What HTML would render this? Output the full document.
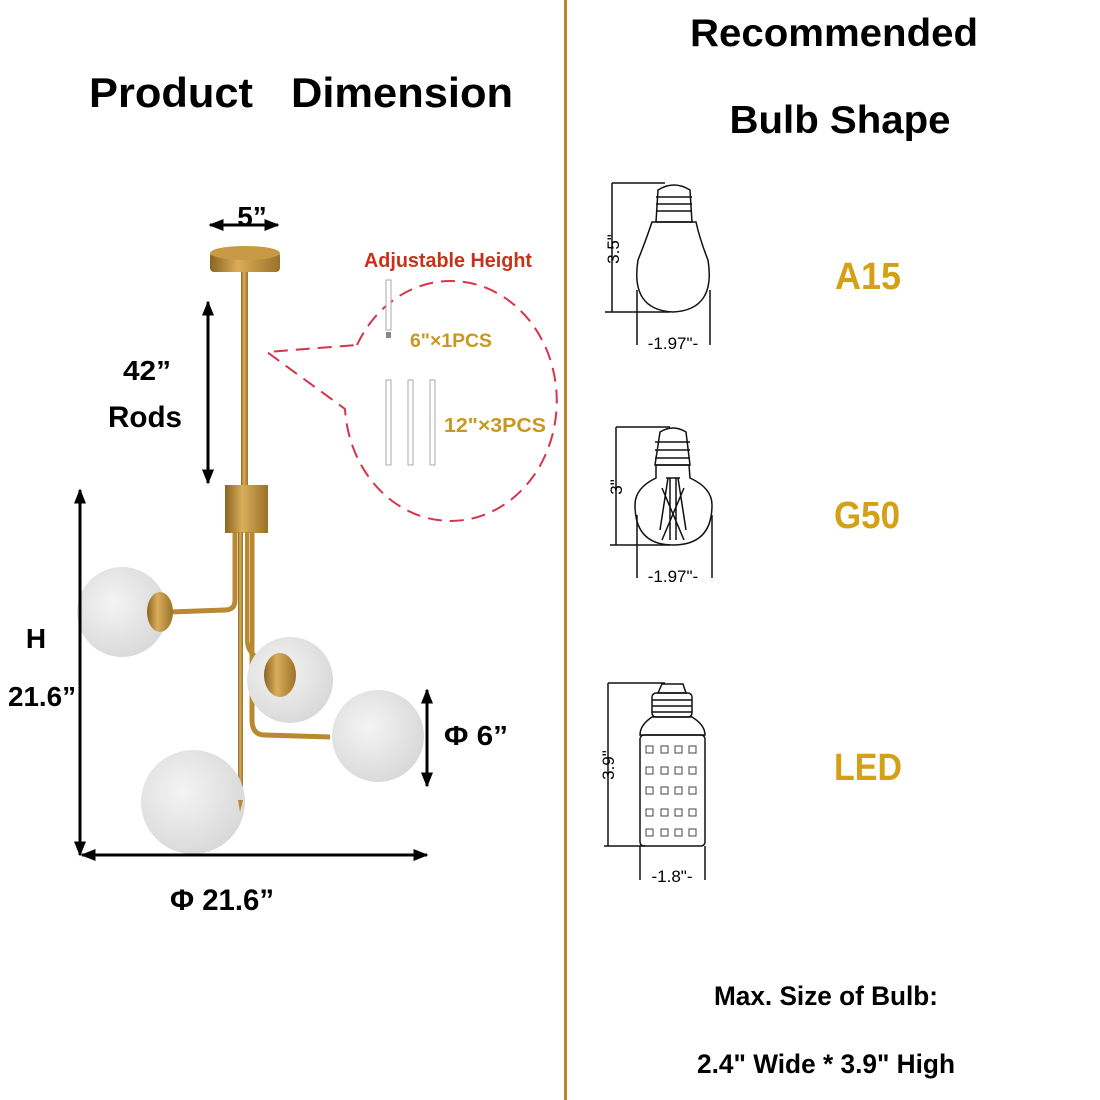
<!DOCTYPE html>
<html><head><meta charset="utf-8"><style>
html,body{margin:0;padding:0;background:#fff;}
svg{display:block;}
text{font-family:"Liberation Sans",Arial,sans-serif;font-weight:bold;}
</style></head><body>
<svg width="1100" height="1100" viewBox="0 0 1100 1100" xmlns="http://www.w3.org/2000/svg">
<defs>
<radialGradient id="ball" cx="0.4" cy="0.4" r="0.7"><stop offset="0" stop-color="#f4f4f4"/><stop offset="1" stop-color="#d6d6d6"/></radialGradient>
<linearGradient id="gold" x1="0" x2="1"><stop offset="0" stop-color="#8a6420"/><stop offset="0.4" stop-color="#d9ad5a"/><stop offset="1" stop-color="#9a7228"/></linearGradient>
<marker id="ah" viewBox="0 0 10 10" refX="9" refY="5" markerWidth="5" markerHeight="5" orient="auto-start-reverse"><path d="M0,1 L10,5 L0,9 z" fill="#000"/></marker>
</defs>
<rect width="1100" height="1100" fill="#fff"/>
<rect x="564" y="0" width="3" height="1100" fill="#b8862c"/>

<text x="171" y="107" font-size="42" text-anchor="middle" textLength="164" lengthAdjust="spacingAndGlyphs">Product</text>
<text x="402" y="107" font-size="42" text-anchor="middle" textLength="222" lengthAdjust="spacingAndGlyphs">Dimension</text>
<text x="834" y="46" font-size="39" text-anchor="middle" textLength="288" lengthAdjust="spacingAndGlyphs">Recommended</text>
<text x="840" y="133" font-size="39" text-anchor="middle" textLength="221" lengthAdjust="spacingAndGlyphs">Bulb Shape</text>

<g>
<rect x="241" y="270" width="7" height="218" fill="url(#gold)"/>
<rect x="210" y="252" width="70" height="20" rx="4" fill="url(#gold)"/>
<ellipse cx="245" cy="253" rx="35" ry="7" fill="#c99a45"/>
<rect x="225" y="485" width="43" height="48" fill="url(#gold)"/>
<rect x="238" y="532" width="5" height="280" fill="url(#gold)"/>
<path d="M235,532 L235,600 Q235,610 225,610 L170,612" stroke="#b8892f" stroke-width="5" fill="none"/>
<path d="M252,532 L252,720 Q252,735 265,735 L330,737" stroke="#b8892f" stroke-width="5" fill="none"/>
<path d="M247,532 L247,640 Q247,655 262,658 L278,660" stroke="#b8892f" stroke-width="4" fill="none"/>
<circle cx="122" cy="612" r="45" fill="url(#ball)"/>
<ellipse cx="160" cy="612" rx="13" ry="20" fill="url(#gold)"/>
<circle cx="290" cy="680" r="43" fill="url(#ball)"/>
<ellipse cx="280" cy="675" rx="16" ry="22" fill="url(#gold)"/>
<circle cx="378" cy="736" r="46" fill="url(#ball)"/>
<circle cx="193" cy="802" r="52" fill="url(#ball)"/>
<path d="M238,800 L240,812 L243,800z" fill="#b8892f"/>
</g>

<line x1="210" y1="225" x2="278" y2="225" stroke="#000" stroke-width="3" marker-start="url(#ah)" marker-end="url(#ah)"/>
<text x="252" y="226" font-size="28" text-anchor="middle">5”</text>
<line x1="208" y1="302" x2="208" y2="483" stroke="#000" stroke-width="3" marker-start="url(#ah)" marker-end="url(#ah)"/>
<text x="147" y="380" font-size="28" text-anchor="middle" textLength="48" lengthAdjust="spacingAndGlyphs">42”</text>
<text x="145" y="427" font-size="30" text-anchor="middle" textLength="74" lengthAdjust="spacingAndGlyphs">Rods</text>
<line x1="80" y1="490" x2="80" y2="855" stroke="#000" stroke-width="3" marker-start="url(#ah)" marker-end="url(#ah)"/>
<line x1="82" y1="855" x2="427" y2="855" stroke="#000" stroke-width="3" marker-start="url(#ah)" marker-end="url(#ah)"/>
<text x="36" y="648" font-size="28" text-anchor="middle">H</text>
<text x="42" y="706" font-size="28" text-anchor="middle" textLength="68" lengthAdjust="spacingAndGlyphs">21.6”</text>
<text x="222" y="910" font-size="30" text-anchor="middle" textLength="104" lengthAdjust="spacingAndGlyphs">Φ 21.6”</text>
<line x1="427" y1="690" x2="427" y2="786" stroke="#000" stroke-width="3" marker-start="url(#ah)" marker-end="url(#ah)"/>
<text x="476" y="745" font-size="28" text-anchor="middle" textLength="64" lengthAdjust="spacingAndGlyphs">Φ 6”</text>

<text x="448" y="267" font-size="20" fill="#c8321a" text-anchor="middle" textLength="168" lengthAdjust="spacingAndGlyphs">Adjustable Height</text>
<path d="M357,345 A106,120 0 1 1 345,409 L267,352 Z" fill="none" stroke="#d8334a" stroke-width="2" stroke-dasharray="14,8"/>
<rect x="386" y="280" width="5" height="50" fill="#fff" stroke="#aaa" stroke-width="1"/>
<rect x="386" y="332" width="5" height="6" fill="#888"/>
<rect x="386" y="380" width="5" height="85" fill="#fff" stroke="#aaa" stroke-width="1"/>
<rect x="408" y="380" width="5" height="85" fill="#fff" stroke="#aaa" stroke-width="1"/>
<rect x="430" y="380" width="5" height="85" fill="#fff" stroke="#aaa" stroke-width="1"/>
<text x="451" y="347" font-size="19" fill="#c9981e" text-anchor="middle" textLength="82" lengthAdjust="spacingAndGlyphs">6"×1PCS</text>
<text x="495" y="432" font-size="20" fill="#c9981e" text-anchor="middle" textLength="102" lengthAdjust="spacingAndGlyphs">12"×3PCS</text>

<g stroke="#111" fill="none" stroke-width="1.5">
<line x1="612" y1="183" x2="665" y2="183"/><line x1="612" y1="183" x2="612" y2="312"/><line x1="605" y1="312" x2="670" y2="312"/>
<path d="M658,190 Q674,180 690,190 L692,222 L656,222 Z"/>
<line x1="656" y1="197" x2="692" y2="197"/><line x1="656" y1="204" x2="692" y2="204"/><line x1="656" y1="211" x2="692" y2="211"/>
<path d="M652,222 L696,222 Q700,240 708,260 Q716,310 673,312 Q630,310 638,260 Q646,240 652,222 Z"/>
<line x1="637" y1="290" x2="637" y2="345"/><line x1="710" y1="290" x2="710" y2="345"/>
<line x1="616" y1="427" x2="670" y2="427"/><line x1="616" y1="427" x2="616" y2="545"/><line x1="610" y1="545" x2="670" y2="545"/>
<path d="M660,432 Q673,424 686,432 L690,465 L655,465 Z"/>
<line x1="655" y1="442" x2="690" y2="442"/><line x1="655" y1="450" x2="690" y2="450"/><line x1="655" y1="458" x2="690" y2="458"/>
<path d="M656,465 L689,465 L690,478 Q712,488 712,505 Q712,545 673,545 Q635,545 635,505 Q635,488 656,478 Z"/>
<path d="M666,478 L680,478 M668,478 L660,530 M678,478 L686,530 M662,488 L684,540 M684,488 L662,540 M670,478 L670,540 M676,478 L676,540"/>
<line x1="637" y1="515" x2="637" y2="578"/><line x1="712" y1="515" x2="712" y2="578"/>
<line x1="608" y1="683" x2="665" y2="683"/><line x1="608" y1="683" x2="608" y2="846"/><line x1="604" y1="846" x2="645" y2="846"/>
<path d="M662,684 L683,684 L686,693 L658,693 Z"/>
<rect x="652" y="693" width="40" height="24" rx="4"/>
<line x1="652" y1="700" x2="692" y2="700"/><line x1="652" y1="706" x2="692" y2="706"/><line x1="652" y1="712" x2="692" y2="712"/>
<path d="M652,717 L692,717 Q705,725 705,735 L640,735 Q640,725 652,717 Z"/>
<rect x="640" y="735" width="65" height="111" rx="4"/>
<line x1="640" y1="846" x2="640" y2="880"/><line x1="705" y1="846" x2="705" y2="880"/>
</g>
<g stroke="#444" fill="none" stroke-width="1">
<rect x="646" y="746" width="7" height="7"/><rect x="661" y="746" width="7" height="7"/><rect x="675" y="746" width="7" height="7"/><rect x="689" y="746" width="7" height="7"/>
<rect x="646" y="767" width="7" height="7"/><rect x="661" y="767" width="7" height="7"/><rect x="675" y="767" width="7" height="7"/><rect x="689" y="767" width="7" height="7"/>
<rect x="646" y="787" width="7" height="7"/><rect x="661" y="787" width="7" height="7"/><rect x="675" y="787" width="7" height="7"/><rect x="689" y="787" width="7" height="7"/>
<rect x="646" y="809" width="7" height="7"/><rect x="661" y="809" width="7" height="7"/><rect x="675" y="809" width="7" height="7"/><rect x="689" y="809" width="7" height="7"/>
<rect x="646" y="829" width="7" height="7"/><rect x="661" y="829" width="7" height="7"/><rect x="675" y="829" width="7" height="7"/><rect x="689" y="829" width="7" height="7"/>
</g>
<g font-size="17">
<text x="673" y="349" text-anchor="middle" style="font-weight:normal">-1.97"-</text>
<text x="673" y="582" text-anchor="middle" style="font-weight:normal">-1.97"-</text>
<text x="672" y="882" text-anchor="middle" style="font-weight:normal">-1.8"-</text>
<text transform="translate(619,249) rotate(-90)" text-anchor="middle" style="font-weight:normal">3.5"</text>
<text transform="translate(622,487) rotate(-90)" text-anchor="middle" style="font-weight:normal">3"</text>
<text transform="translate(614,765) rotate(-90)" text-anchor="middle" style="font-weight:normal">3.9"</text>
</g>

<text x="868" y="289" font-size="38" fill="#d4a014" text-anchor="middle" textLength="66" lengthAdjust="spacingAndGlyphs">A15</text>
<text x="867" y="528" font-size="38" fill="#d4a014" text-anchor="middle" textLength="66" lengthAdjust="spacingAndGlyphs">G50</text>
<text x="868" y="780" font-size="38" fill="#d4a014" text-anchor="middle" textLength="68" lengthAdjust="spacingAndGlyphs">LED</text>

<text x="826" y="1005" font-size="27" text-anchor="middle" textLength="224" lengthAdjust="spacingAndGlyphs">Max. Size of Bulb:</text>
<text x="826" y="1073" font-size="27" text-anchor="middle" textLength="258" lengthAdjust="spacingAndGlyphs">2.4" Wide * 3.9" High</text>
</svg>
</body></html>
